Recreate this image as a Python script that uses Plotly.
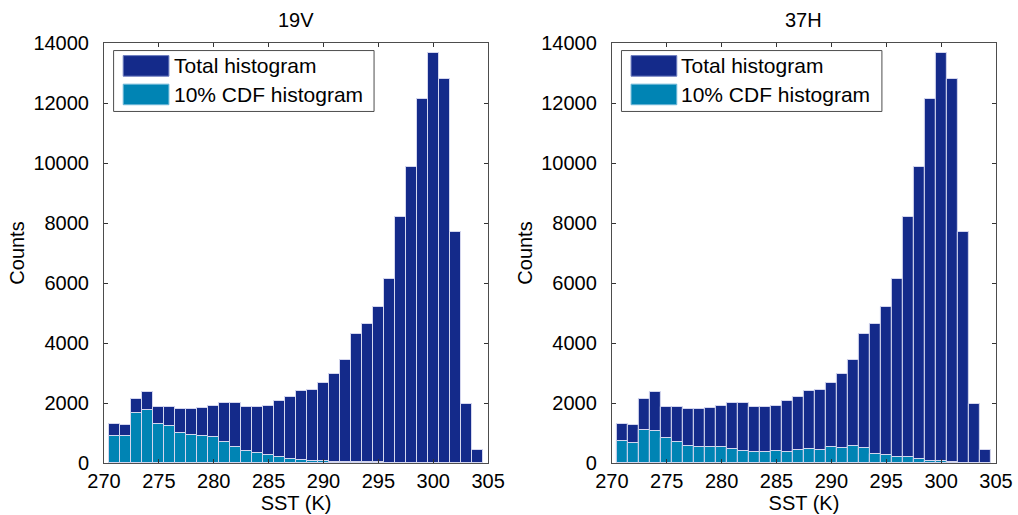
import plotly.graph_objects as go
from plotly.subplots import make_subplots

# ---- data ----
sst_centers = [271, 272, 273, 274, 275, 276, 277, 278, 279, 280,
               281, 282, 283, 284, 285, 286, 287, 288, 289, 290,
               291, 292, 293, 294, 295, 296, 297, 298, 299, 300,
               301, 302, 303, 304]

total_counts = [1311, 1267, 2140, 2367, 1870, 1870, 1800, 1800, 1840, 1911,
                1989, 1989, 1870, 1870, 1915, 2060, 2215, 2405, 2440, 2662,
                2967, 3428, 4300, 4633, 5189, 6128, 8200, 9860, 12122, 13667,
                12795, 7715, 1955, 444]

cdf_19v = [905, 905, 1656, 1767, 1311, 1240, 1011, 940, 905, 860,
           711, 520, 411, 333, 260, 185, 144, 111, 78, 60,
           40, 30, 25, 20, 20, 15, 10, 5, 0, 0,
           0, 0, 0, 0]

cdf_37h = [750, 678, 1089, 1056, 822, 711, 567, 527, 527, 527,
           478, 411, 367, 367, 411, 367, 444, 483, 444, 522,
           485, 567, 485, 305, 267, 189, 185, 144, 78, 78,
           44, 10, 0, 0]

panel_titles = ["19V", "37H"]
legend_labels = ["Total histogram", "10% CDF histogram"]
x_ticks = [270, 275, 280, 285, 290, 295, 300, 305]
y_ticks = [0, 2000, 4000, 6000, 8000, 10000, 12000, 14000]

NAVY = "#142a8a"
CYAN = "#0084b4"
EDGE = "#d4d6ee"
FONT = "Liberation Sans, Arial, Helvetica, sans-serif"
FS = 20

fig = make_subplots(rows=1, cols=2, horizontal_spacing=0.1387)

for col, cdf in enumerate([cdf_19v, cdf_37h], start=1):
    fig.add_trace(go.Bar(x=sst_centers, y=total_counts, width=1,
                         marker=dict(color=NAVY, line=dict(color=EDGE, width=1)),
                         name=legend_labels[0], showlegend=False), row=1, col=col)
    fig.add_trace(go.Bar(x=sst_centers, y=cdf, width=1,
                         marker=dict(color=CYAN, line=dict(color=EDGE, width=1)),
                         name=legend_labels[1], showlegend=False), row=1, col=col)

axis_common = dict(showline=True, linecolor="#4d4d4d", linewidth=1, mirror="allticks",
                   ticks="inside", ticklen=4, tickcolor="#333333", showgrid=False,
                   zeroline=False, automargin=False,
                   tickfont=dict(family=FONT, size=FS, color="black"))

for col in (1, 2):
    fig.update_xaxes(range=[270, 305], tickvals=x_ticks,
                     title=dict(text="SST (K)", font=dict(family=FONT, size=FS, color="black"), standoff=4),
                     **axis_common, row=1, col=col)
    fig.update_yaxes(range=[0, 14000], tickvals=y_ticks, tickformat="d", ticklabelstandoff=10,
                     title=dict(text="Counts", font=dict(family=FONT, size=FS, color="black"), standoff=3),
                     **axis_common, row=1, col=col)

# custom legend drawn in each panel (domain coordinates)
shapes = []
annotations = []
for i, ax in enumerate(["x", "x2"]):
    ay = "y" if ax == "x" else "y2"
    xref = f"{ax} domain"
    yref = f"{ay} domain"
    shapes.append(dict(type="rect", xref=xref, yref=yref, x0=0.025, x1=0.703, y0=0.837, y1=0.982,
                       line=dict(color="#4d4d4d", width=1), fillcolor="white", layer="above"))
    shapes.append(dict(type="rect", xref=xref, yref=yref, x0=0.05, x1=0.169, y0=0.921, y1=0.970,
                       line=dict(color="#6f7fc0", width=1), fillcolor=NAVY, layer="above"))
    shapes.append(dict(type="rect", xref=xref, yref=yref, x0=0.05, x1=0.169, y0=0.853, y1=0.902,
                       line=dict(color="#6fb8d8", width=1), fillcolor=CYAN, layer="above"))
    annotations.append(dict(xref=xref, yref=yref, x=0.176, y=0.946, text=legend_labels[0],
                            showarrow=False, xanchor="left", yanchor="middle",
                            font=dict(family=FONT, size=21, color="black")))
    annotations.append(dict(xref=xref, yref=yref, x=0.176, y=0.878, text=legend_labels[1],
                            showarrow=False, xanchor="left", yanchor="middle",
                            font=dict(family=FONT, size=21, color="black")))
    annotations.append(dict(xref=xref, yref=yref, x=0.5, y=1.055, text=panel_titles[i],
                            showarrow=False, xanchor="center", yanchor="middle",
                            font=dict(family=FONT, size=FS, color="black")))

fig.update_layout(width=1018, height=515, margin=dict(l=104, r=22, t=43, b=52),
                  barmode="overlay", bargap=0, plot_bgcolor="white", paper_bgcolor="white",
                  shapes=shapes, annotations=annotations, showlegend=False,
                  font=dict(family=FONT, size=FS, color="black"))

fig.write_html("out.html")
